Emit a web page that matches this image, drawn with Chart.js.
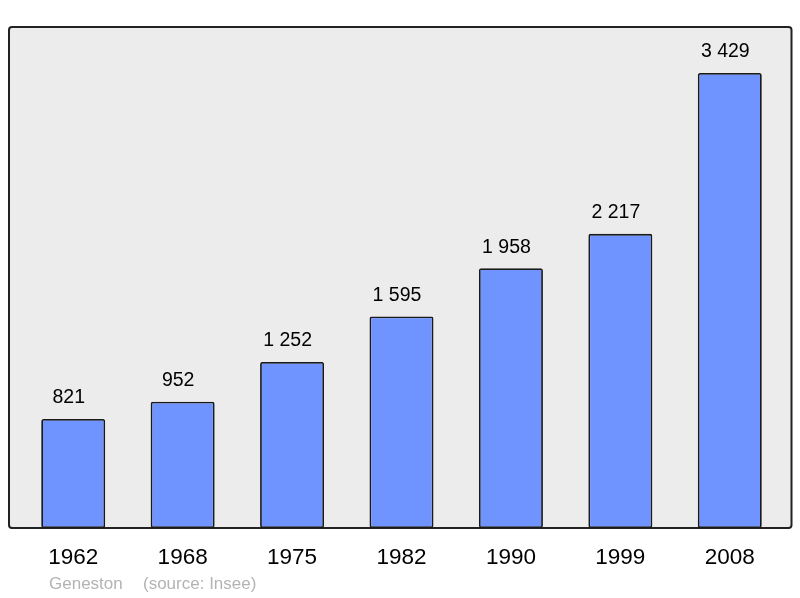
<!DOCTYPE html>
<html>
<head>
<meta charset="utf-8">
<script src="https://cdn.jsdelivr.net/npm/chart.js@4/dist/chart.umd.min.js"></script>
<style>
  html, body { margin: 0; padding: 0; background: #fff; }
  canvas { display: block; }
</style>
</head>
<body>
<canvas id="chart" width="800" height="598"></canvas>
<script>
const years = ['1962', '1968', '1975', '1982', '1990', '1999', '2008'];
const population = [821, 952, 1252, 1595, 1958, 2217, 3429];
const town = 'Geneston';
const source = '(source: Insee)';

function fmt(n) {
    return String(n).replace(/\B(?=(\d{3})+(?!\d))/g, ' ');
}

// gray box with dark frame behind the bars
const frame = {
    id: 'frame',
    beforeDatasetsDraw(chart) {
        const a = chart.chartArea;
        const ctx = chart.ctx;
        const x = a.left - 9.5, y = a.top, w = a.right + 7 - x, h = a.bottom - a.top;
        ctx.save();
        ctx.beginPath();
        ctx.roundRect(x, y, w, h, 3);
        ctx.fillStyle = '#ececec';
        ctx.fill();
        ctx.lineWidth = 2;
        ctx.strokeStyle = '#222';
        ctx.stroke();
        ctx.restore();
    }
};

// values over the bars + footer
const labels = {
    id: 'labels',
    afterDatasetsDraw(chart) {
        const ctx = chart.ctx;
        const meta = chart.getDatasetMeta(0);
        ctx.save();
        ctx.font = '19.5px "Liberation Sans", Arial, sans-serif';
        ctx.fillStyle = '#000';
        ctx.textAlign = 'center';
        ctx.textBaseline = 'middle';
        meta.data.forEach((bar, i) => {
            ctx.fillText(fmt(population[i]), bar.x - 4.5, bar.y - 21);
        });
        ctx.font = '17px "Liberation Sans", Arial, sans-serif';
        ctx.fillStyle = '#b3b3b3';
        ctx.textAlign = 'left';
        ctx.fillText(town, 49, 584);
        ctx.fillText(source, 143, 584);
        ctx.restore();
    }
};

new Chart(document.getElementById('chart'), {
    type: 'bar',
    data: {
        labels: years,
        datasets: [{
            data: population,
            backgroundColor: '#7094ff',
            borderColor: '#1a1a1a',
            borderWidth: 1.8,
            borderSkipped: false,
            borderRadius: 2,
            barPercentage: 0.585,
            categoryPercentage: 1.0
        }]
    },
    options: {
        responsive: false,
        animation: false,
        layout: { padding: { left: 18.5, right: 15.5, top: 27, bottom: 0 } },
        plugins: {
            legend: { display: false },
            tooltip: { enabled: false }
        },
        scales: {
            y: {
                display: false,
                min: 0,
                max: 3776
            },
            x: {
                grid: { display: false, drawTicks: false },
                border: { display: false },
                ticks: {
                    color: '#000',
                    padding: 16,
                    font: { family: '"Liberation Sans", Arial, sans-serif', size: 22.5 }
                },
                afterFit(scale) { scale.height = 70; }
            }
        }
    },
    plugins: [frame, labels]
});
</script>
</body>
</html>
